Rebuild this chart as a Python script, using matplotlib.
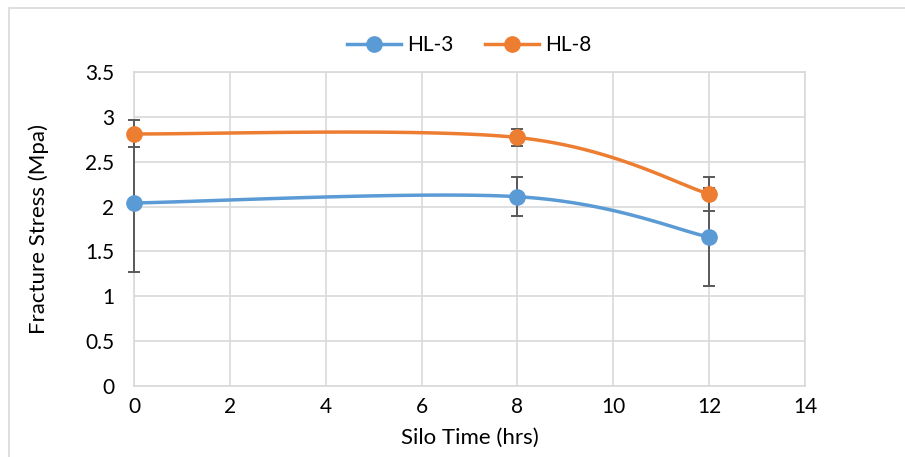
import numpy as np
import matplotlib
matplotlib.use("Agg")
import matplotlib.pyplot as plt
from matplotlib.patches import Rectangle

plt.rcParams['font.family'] = ['Lato', 'DejaVu Sans']

# -- data --
silo_time = [0, 8, 12]
hl3 = [2.04, 2.11, 1.66]
hl3_err = [0.77, 0.22, 0.55]
hl8 = [2.81, 2.77, 2.14]
hl8_err = [0.15, 0.10, 0.19]
xticks = [0, 2, 4, 6, 8, 10, 12, 14]
yticks = [0, 0.5, 1, 1.5, 2, 2.5, 3, 3.5]

BLUE = '#5B9BD5'
ORANGE = '#ED7D31'
GRID = '#D9D9D9'


# -- Excel style smoothed line (bezier through points) --
def smooth(x, y, n=60):
    p = np.column_stack([x, y]).astype(float)
    out = []
    for i in range(len(p) - 1):
        p0 = p[i - 1] if i > 0 else p[i]
        p3 = p[i + 2] if i + 2 < len(p) else p[i + 1]
        c1 = p[i] + (p[i + 1] - p0) / 6
        c2 = p[i + 1] - (p3 - p[i]) / 6
        t = np.linspace(0, 1, n)[:, None]
        seg = ((1 - t)**3 * p[i] + 3 * (1 - t)**2 * t * c1
               + 3 * (1 - t) * t**2 * c2 + t**3 * p[i + 1])
        out.append(seg)
    seg = np.vstack(out)
    return seg[:, 0], seg[:, 1]


fig = plt.figure(figsize=(9.05, 4.57), dpi=100)
ax = fig.add_axes([134/905, 1 - 386/457, (805-134)/905, (386-72)/457])

# chart frame
fig.patches.append(Rectangle((9/905, -0.1), 1.2, 1 - 8/457 + 0.1, transform=fig.transFigure,
                             fill=False, edgecolor=GRID, lw=1.2))

for ys, err, c, lab in [(hl3, hl3_err, BLUE, 'HL-3'), (hl8, hl8_err, ORANGE, 'HL-8')]:
    sx, sy = smooth(silo_time, ys)
    ax.plot(sx, sy, color=c, lw=2.5, zorder=3, solid_capstyle='round')
    eb = ax.errorbar(silo_time, ys, yerr=err, fmt='none', ecolor='#595959', elinewidth=1.4,
                     capsize=4, capthick=1.4, zorder=2.8)
    for art in list(eb.lines[1]) + list(eb.lines[2]):
        art.set_clip_on(False)
    ax.plot(silo_time, ys, 'o', color=c, ms=11, zorder=4, clip_on=False)
    ax.plot([], [], '-o', color=c, lw=2.5, ms=11, label=lab)

ax.set_xlim(0, 14)
ax.set_ylim(0, 3.5)
ax.set_xticks(xticks)
ax.set_yticks(yticks)
ax.set_yticklabels([f'{v:g}' for v in yticks])
ax.grid(True, color=GRID, lw=1.2)
ax.set_axisbelow(True)
for s in ax.spines.values():
    s.set_color(GRID)
    s.set_linewidth(1.2)
ax.tick_params(length=0, labelsize=15, colors='black')
ax.tick_params(axis='y', pad=14)
ax.tick_params(axis='x', pad=8)
ax.set_xlabel('Silo Time (hrs)', fontsize=16, labelpad=8)
ax.set_ylabel('Fracture Stress (Mpa)', fontsize=16, labelpad=26)

ax.legend(loc='center', bbox_to_anchor=(0.5, 1.085), ncol=2, frameon=False,
          fontsize=15, handlelength=2.6, columnspacing=1.5, handletextpad=0.3)

fig.savefig('out.png', dpi=100)
